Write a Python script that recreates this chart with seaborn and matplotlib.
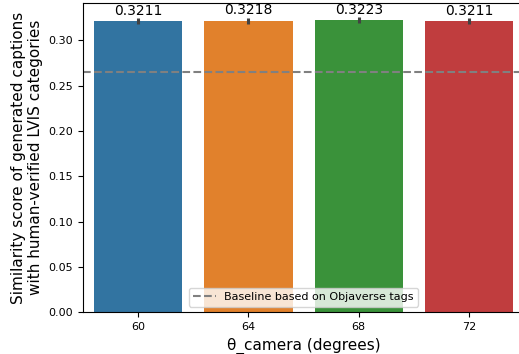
import pandas as pd
import matplotlib.pyplot as plt
import seaborn as sns
import numpy as np

# data
theta = ["60", "64", "68", "72"]
score = [0.3211, 0.3218, 0.3223, 0.3211]
err = [0.0033, 0.0033, 0.0033, 0.0033]
baseline = 0.265

df = pd.DataFrame({"theta": theta, "score": score})

fig, ax = plt.subplots(figsize=(5.19, 3.54), dpi=100)
fig.subplots_adjust(left=0.16, right=1.01, top=0.992, bottom=0.118)

sns.barplot(x="theta", y="score", data=df, hue="theta", palette="tab10",
            legend=False, errorbar=None, ax=ax)
ax.errorbar(np.arange(len(theta)), score, yerr=err, fmt="none",
            ecolor=".26", elinewidth=2.2, capsize=0)

for i, v in enumerate(score):
    ax.text(i, v + err[i] + 0.0003, f"{v:.4f}", ha="center", va="bottom", fontsize=10)

ax.axhline(baseline, color="gray", linestyle="--", label="Baseline based on Objaverse tags")
ax.legend(loc="lower center", fontsize=8)

ax.set_xlim(-0.5, len(theta) - 0.5)
ax.set_ylim(0, 0.3415)
ax.set_xlabel("θ_camera (degrees)", fontsize=11)
ax.set_ylabel("Similarity score of generated captions\nwith human-verified LVIS categories", fontsize=11)
ax.tick_params(labelsize=8)

plt.savefig("out.png")
